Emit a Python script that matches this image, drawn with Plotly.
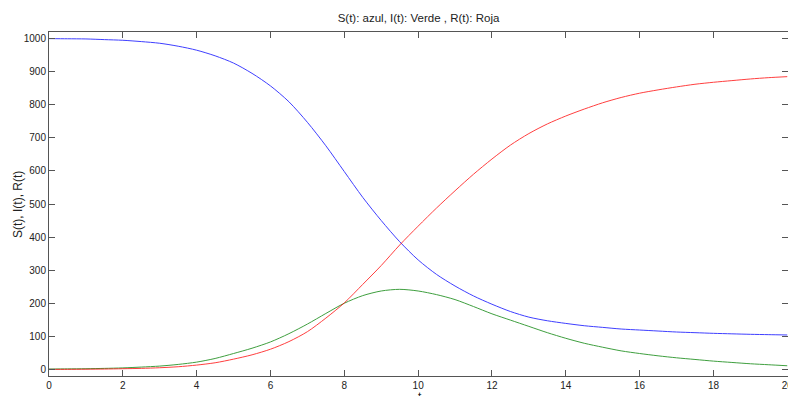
import plotly.graph_objects as go

t = [i * 0.5 for i in range(41)]
S = [1000, 999.5, 999, 997, 995, 991, 986, 977, 965, 948, 926, 895, 857, 809, 747, 676,
     598, 520, 450, 386, 331, 287, 252, 222, 197, 175, 158, 147, 139, 132, 127, 122,
     119, 116, 113, 111, 109, 107.5, 106, 105, 104]
I = [1, 1.5, 2, 3, 4.5, 7, 10, 15, 22, 33, 48, 64, 83, 108, 137, 169, 200, 223, 237,
     242, 237, 226, 211, 190, 168, 149, 130, 111, 94, 79, 67, 56, 48, 41, 35, 30, 25,
     21, 17, 14, 11]
R = [0, 0.2, 0.5, 1, 2, 3, 5, 8, 13, 20, 31, 44, 61, 84, 114, 155, 201, 257, 314, 376,
     433, 488, 540, 590, 636, 678, 713, 742, 766, 787, 806, 822, 835, 845, 854, 862,
     868, 873, 878, 882, 885]

x_ticks = [0, 2, 4, 6, 8, 10, 12, 14, 16, 18, 20]
y_ticks = [0, 100, 200, 300, 400, 500, 600, 700, 800, 900, 1000]

FONT = "Liberation Sans, Arial, sans-serif"
W, H = 788, 396
ML, MT, MB = 49, 32, 20
PW, PH = W - ML, H - MT - MB

fig = go.Figure()
for name, vals, col in [("S(t)", S, "#0000ff"), ("I(t)", I, "#008000"), ("R(t)", R, "#ff0000")]:
    fig.add_trace(go.Scatter(x=t, y=vals, mode="lines", name=name,
                             line=dict(color=col, width=1, shape="spline", smoothing=0.8),
                             opacity=0.75))

axis_common = dict(showline=True, linecolor="#555555", linewidth=1, mirror="ticks",
                   ticks="inside", ticklen=6, tickcolor="#555555", showgrid=False,
                   zeroline=False, tickfont=dict(family=FONT, size=10, color="#222222"),
                   automargin=False, ticklabeloverflow="allow")

fig.update_layout(
    width=W, height=H,
    margin=dict(l=ML, r=0, t=MT, b=MB),
    paper_bgcolor="white", plot_bgcolor="white",
    showlegend=False,
    title=dict(text="S(t): azul, I(t): Verde , R(t): Roja", x=0.5, xref="paper",
               y=1 - 18 / H, yref="container", yanchor="middle", xanchor="center",
               font=dict(family=FONT, size=11.5, color="#222222")),
    xaxis=dict(range=[0, 20.02], tickvals=x_ticks, ticktext=[str(v) for v in x_ticks],
               **axis_common),
    yaxis=dict(range=[-20, 1020], tickvals=y_ticks, ticktext=[str(v) for v in y_ticks],
               **axis_common),
    annotations=[
        dict(text="t", xref="paper", yref="paper", x=(420 - ML) / PW, y=-(388 - (H - MB)) / PH,
             xanchor="center", yanchor="top", showarrow=False,
             font=dict(family=FONT, size=12, color="#222222")),
        dict(text="S(t), I(t), R(t)", xref="paper", yref="paper", x=(18 - ML) / PW, y=0.5,
             xanchor="center", yanchor="middle", textangle=-90, showarrow=False,
             font=dict(family=FONT, size=12, color="#222222")),
    ],
)

fig.write_html("out.html", config={"displayModeBar": False},
               post_script="document.body.style.margin='0';document.body.style.overflow='hidden';")
